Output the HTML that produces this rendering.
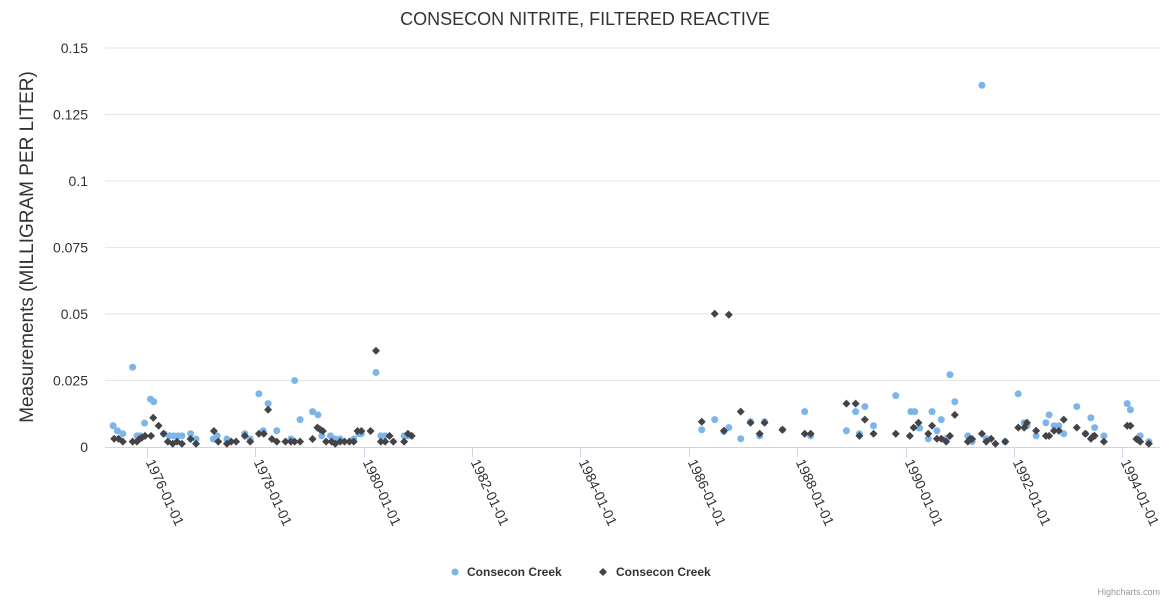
<!DOCTYPE html>
<html><head><meta charset="utf-8"><style>
body{margin:0;background:#fff;font-family:"Liberation Sans",sans-serif}
svg text{font-family:"Liberation Sans",sans-serif}
</style></head><body>
<svg id="chart" width="1170" height="600" xmlns="http://www.w3.org/2000/svg">
<rect width="1170" height="600" fill="#fff"/>
<text x="585" y="25" text-anchor="middle" font-size="18" fill="#333">CONSECON NITRITE, FILTERED REACTIVE</text>
<text transform="translate(33,247) rotate(-90)" text-anchor="middle" font-size="19" fill="#333">Measurements (MILLIGRAM PER LITER)</text>
<g id="grid"></g><g id="xaxis"></g><g id="s1"></g><g id="s2"></g>
<g>
<g><circle cx="455" cy="572" r="3.5" fill="#7cb5ec"/><text x="467" y="576" font-size="12" font-weight="bold" fill="#333">Consecon Creek</text></g>
<g><path d="M603 568 L607 572 L603 576 L599 572 Z" fill="#434348"/><text x="616" y="576" font-size="12" font-weight="bold" fill="#333">Consecon Creek</text></g>
</g>
<text x="1160" y="595" text-anchor="end" font-size="9" fill="#999">Highcharts.com</text>
</svg>
<script>
const yTicks=[0,0.025,0.05,0.075,0.1,0.125,0.15];
const yTickLabels=["0","0.025","0.05","0.075","0.1","0.125","0.15"];
const xTickYears=[1976,1978,1980,1982,1984,1986,1988,1990,1992,1994];
const xTickLabels=["1976-01-01","1978-01-01","1980-01-01","1982-01-01","1984-01-01","1986-01-01","1988-01-01","1990-01-01","1992-01-01","1994-01-01"];
const blueDates=[1975.38,1975.46,1975.56,1975.74,1975.82,1975.88,1975.96,1976.07,1976.13,1976.32,1976.42,1976.50,1976.58,1976.65,1976.81,1976.91,1977.23,1977.30,1977.48,1977.81,1977.91,1978.07,1978.15,1978.24,1978.40,1978.66,1978.73,1978.83,1979.06,1979.16,1979.23,1979.39,1979.48,1979.57,1979.82,1979.91,1979.96,1980.23,1980.32,1980.40,1980.75,1980.82,
1986.24,1986.48,1986.65,1986.74,1986.96,1987.14,1987.31,1987.40,1987.73,1988.14,1988.25,1988.91,1989.08,1989.25,1989.15,1989.41,1989.82,1990.10,1990.17,1990.24,1990.26,1990.42,1990.49,1990.58,1990.66,1990.75,1990.82,1990.91,1991.41,1991.15,1991.23,1991.49,1991.84,1992.08,1992.19,1992.24,1992.41,1992.59,1992.65,1992.74,1992.83,1992.92,1993.16,1993.32,1993.42,1993.49,1993.66,1994.09,1994.15,1994.33,1994.49];
const blueValues=[0.008,0.0061,0.005,0.030,0.0042,0.0042,0.009,0.018,0.017,0.005,0.0042,0.0042,0.0042,0.0042,0.005,0.003,0.003,0.0042,0.003,0.005,0.003,0.020,0.0061,0.0163,0.0061,0.003,0.025,0.0103,0.0133,0.0121,0.0042,0.0042,0.003,0.003,0.003,0.005,0.005,0.028,0.0042,0.0042,0.0042,0.0042,
0.0065,0.0103,0.0058,0.0073,0.0031,0.0095,0.0042,0.0095,0.0065,0.0133,0.0042,0.0061,0.0133,0.0152,0.005,0.008,0.0193,0.0133,0.0133,0.0073,0.0071,0.0031,0.0133,0.0061,0.0103,0.0031,0.0272,0.017,0.136,0.0042,0.002,0.0031,0.002,0.020,0.0091,0.008,0.0042,0.0091,0.0121,0.008,0.008,0.005,0.0152,0.005,0.011,0.0073,0.0042,0.0163,0.014,0.0042,0.002];
const darkDates=[1975.40,1975.48,1975.56,1975.74,1975.82,1975.86,1975.91,1975.97,1976.08,1976.12,1976.22,1976.31,1976.39,1976.48,1976.56,1976.65,1976.81,1976.91,1977.24,1977.32,1977.48,1977.56,1977.65,1977.81,1977.91,1978.07,1978.16,1978.24,1978.31,1978.40,1978.56,1978.66,1978.73,1978.83,1979.06,1979.15,1979.20,1979.25,1979.31,1979.41,1979.48,1979.57,1979.65,1979.74,1979.82,1979.89,1979.96,1980.13,1980.23,1980.32,1980.40,1980.48,1980.55,1980.75,1980.82,1980.89,
1986.48,1986.74,1986.24,1986.65,1986.96,1987.14,1987.31,1987.40,1987.73,1988.14,1988.25,1988.91,1989.08,1989.25,1989.15,1989.41,1989.82,1990.08,1990.15,1990.24,1990.42,1990.49,1990.58,1990.66,1990.75,1990.82,1990.91,1991.15,1991.19,1991.23,1991.41,1991.49,1991.58,1991.66,1991.84,1992.08,1992.19,1992.24,1992.41,1992.59,1992.65,1992.74,1992.83,1992.92,1993.16,1993.32,1993.42,1993.46,1993.49,1993.66,1994.09,1994.15,1994.26,1994.30,1994.33,1994.49];
const darkValues=[0.0031,0.0031,0.002,0.002,0.002,0.0029,0.0035,0.0042,0.0042,0.011,0.008,0.005,0.002,0.0012,0.002,0.0012,0.003,0.0012,0.006,0.002,0.0012,0.002,0.002,0.0042,0.002,0.005,0.005,0.014,0.003,0.002,0.002,0.002,0.002,0.002,0.003,0.0073,0.0066,0.006,0.002,0.002,0.0012,0.002,0.002,0.002,0.002,0.006,0.006,0.006,0.0362,0.002,0.002,0.0042,0.002,0.002,0.005,0.0042,
0.0501,0.0497,0.0095,0.0061,0.0133,0.0091,0.005,0.0091,0.0065,0.005,0.005,0.0163,0.0163,0.0103,0.0042,0.005,0.005,0.0042,0.0073,0.0091,0.005,0.008,0.0031,0.0031,0.002,0.0042,0.0121,0.002,0.003,0.003,0.005,0.002,0.0031,0.0012,0.002,0.0073,0.0073,0.0091,0.0061,0.0042,0.0042,0.0061,0.0061,0.0103,0.0073,0.005,0.0031,0.004,0.0042,0.002,0.008,0.008,0.003,0.0026,0.002,0.0012];
const NS="http://www.w3.org/2000/svg";
function xScale(yr){return 146.7+(yr-1976)*54.2;}
function yScale(v){return 447-v*2660;}
function mk(tag,attrs,parent){const e=document.createElementNS(NS,tag);for(const k in attrs)e.setAttribute(k,attrs[k]);parent.appendChild(e);return e;}
const grid=document.getElementById('grid');
yTicks.forEach((t,i)=>{
 const y=yScale(t);
 if(i>0){const l=mk('line',{x1:105,x2:1160,y1:y,y2:y,stroke:'#e6e6e6'},grid);
 
 }
 const tx=mk('text',{x:88,y:y+5,'text-anchor':'end','font-size':14,fill:'#333'},grid);
 tx.textContent=yTickLabels[i];
 
 
});
const xa=document.getElementById('xaxis');
const axl=mk('line',{x1:105,x2:1160,y1:447.5,y2:447.5,stroke:'#ccd6eb'},xa);


xTickYears.forEach((yr,i)=>{
 const x=Math.round(xScale(yr))+0.5;
 const tk=mk('line',{x1:x,x2:x,y1:447,y2:457,stroke:'#ccd6eb'},xa);
 
 
 const tx=mk('text',{x:0,y:0,'font-size':14,fill:'#333',transform:`translate(${x-2},${462}) rotate(65)`},xa);
 tx.textContent=xTickLabels[i];
 
 
});
const s1=document.getElementById('s1');
blueDates.forEach((d,i)=>{
 const c=mk('circle',{cx:xScale(d),cy:yScale(blueValues[i]),r:3.5,fill:'#7cb5ec'},s1);
 
 
});
const s2=document.getElementById('s2');
darkDates.forEach((d,i)=>{
 const x=xScale(d),y=yScale(darkValues[i]);
 const p=mk('path',{d:`M${x} ${y-4} L${x+4} ${y} L${x} ${y+4} L${x-4} ${y} Z`,fill:'#434348'},s2);
 
 
});
</script>
</body></html>
